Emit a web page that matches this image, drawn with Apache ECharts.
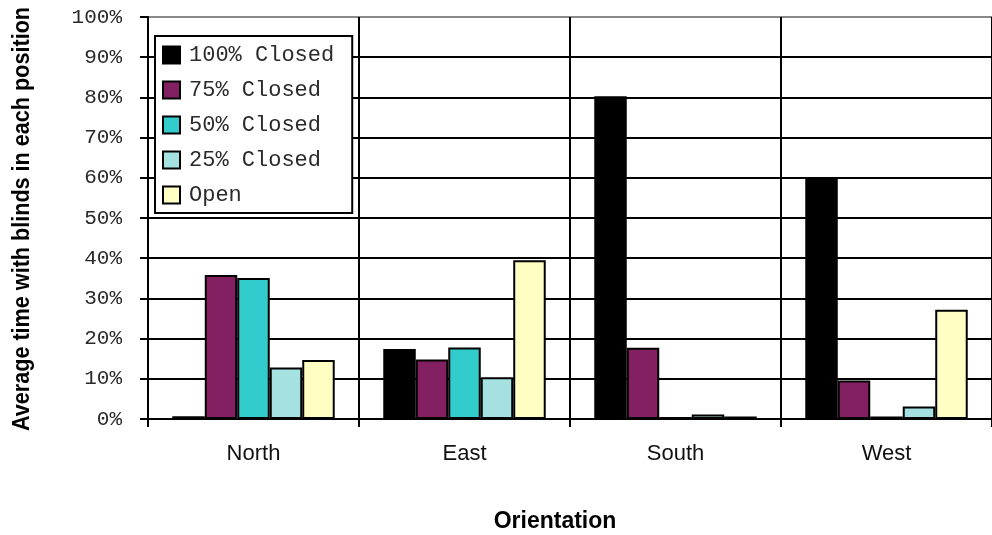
<!DOCTYPE html>
<html>
<head>
<meta charset="utf-8">
<script src="https://cdn.jsdelivr.net/npm/echarts@6/dist/echarts.min.js"></script>
<style>
  html, body { margin: 0; padding: 0; background: #fff; }
  #chart { width: 992px; height: 535px; }
</style>
</head>
<body>
<div id="chart"></div>
<script>
// Share of time the blinds spent in each position, by window orientation (%)
const orientations = ['North', 'East', 'South', 'West'];
const closed100 = [0.7, 17.4, 80.3, 59.7];
const closed75  = [35.8, 14.8, 17.7, 9.6];
const closed50  = [35.1, 17.8, 0.5, 0.6];
const closed25  = [12.8, 10.4, 1.1, 3.1];
const openPos   = [14.7, 39.5, 0.6, 27.2];

const seriesNames  = ['100% Closed', '75% Closed', '50% Closed', '25% Closed', 'Open'];
const seriesValues = [closed100, closed75, closed50, closed25, openPos];
const seriesColors = ['#000000', '#822062', '#33CCCC', '#A6E1E1', '#FFFFC3'];

const yTitle = 'Average time with blinds in each position';
const xTitle = 'Orientation';

const monoFont = '"Liberation Mono", "Courier New", monospace';
const sansFont = '"Liberation Sans", Arial, sans-serif';

const chart = echarts.init(document.getElementById('chart'), null, { renderer: 'canvas' });

// 0%..90% gridlines black, top (100%) line grey
const splitColors = [];
for (let i = 0; i < 10; i++) splitColors.push('#000');
splitColors.push('#888');

chart.setOption({
  animation: false,
  backgroundColor: '#ffffff',
  grid: { left: 148, right: 0, top: 17, bottom: 116, containLabel: false },
  legend: {
    orient: 'vertical',
    left: 155,
    top: 36,
    padding: [8, 18, 7, 7],
    itemWidth: 17,
    itemHeight: 17,
    itemGap: 13,
    borderColor: '#000',
    borderWidth: 2,
    backgroundColor: '#fff',
    icon: 'rect',
    textStyle: { fontFamily: monoFont, fontSize: 22, color: '#2a2a2a', padding: [0, 0, 0, 4] },
    data: seriesNames
  },
  // axis titles: condensed bold vertical title and the category axis title
  graphic: [
    {
      type: 'text',
      x: 22,
      y: 219,
      rotation: Math.PI / 2,
      scaleX: 0.9,
      style: {
        text: yTitle,
        font: 'bold 24px ' + sansFont,
        fill: '#000',
        align: 'center',
        verticalAlign: 'middle'
      }
    },
    {
      type: 'text',
      x: 555,
      y: 522,
      style: {
        text: xTitle,
        font: 'bold 23px ' + sansFont,
        fill: '#000',
        align: 'center',
        verticalAlign: 'middle'
      }
    }
  ],
  xAxis: {
    type: 'category',
    data: orientations,
    boundaryGap: true,
    axisLine: { lineStyle: { color: '#000', width: 2 } },
    axisTick: { show: true, length: 8, lineStyle: { color: '#000', width: 2 } },
    axisLabel: { margin: 24, fontFamily: sansFont, fontSize: 22, color: '#111' },
    splitLine: { show: true, lineStyle: { color: '#000', width: 2 } }
  },
  yAxis: {
    type: 'value',
    min: 0,
    max: 100,
    interval: 10,
    axisLine: { show: true, lineStyle: { color: '#000', width: 2 } },
    axisTick: { show: true, length: 8, lineStyle: { color: '#000', width: 2 } },
    axisLabel: { margin: 26, formatter: '{value}%', fontFamily: monoFont, fontSize: 21, color: '#2a2a2a' },
    splitLine: { show: true, lineStyle: { color: splitColors, width: 2 } }
  },
  series: seriesNames.map((name, i) => ({
    name: name,
    type: 'bar',
    data: seriesValues[i],
    barGap: '0%',
    barCategoryGap: '23%',
    itemStyle: { color: seriesColors[i], borderColor: '#000', borderWidth: 2 }
  }))
});
</script>
</body>
</html>
